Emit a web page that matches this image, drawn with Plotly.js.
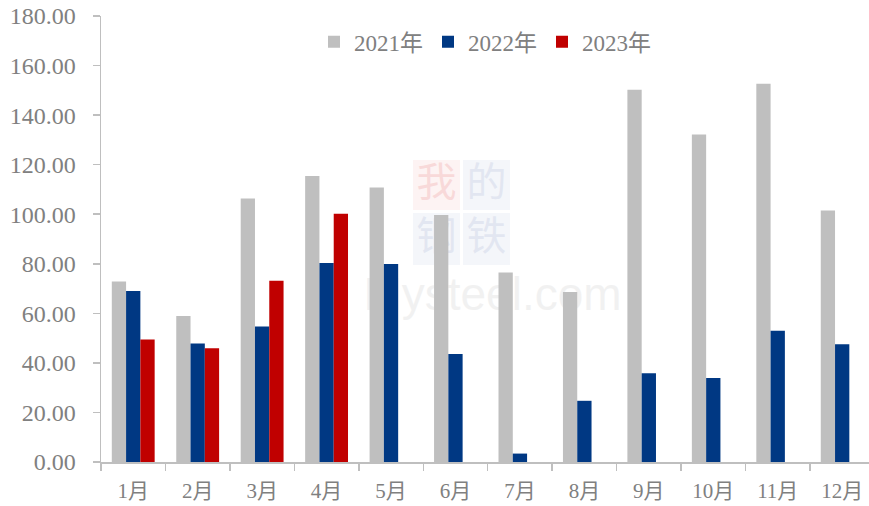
<!DOCTYPE html>
<html>
<head>
<meta charset="utf-8">
<script src="https://cdn.plot.ly/plotly-3.0.1.min.js"></script>
<style>html,body{margin:0;padding:0;background:#fff;}#chart{width:869px;height:506px;}</style>
</head>
<body>
<div id="chart"></div>
<script>
const months = ["1月","2月","3月","4月","5月","6月","7月","8月","9月","10月","11月","12月"];
const series2021 = [72.8, 58.9, 106.3, 115.4, 110.8, 99.7, 76.5, 68.6, 150.2, 132.2, 152.7, 101.5];
const series2022 = [69.0, 47.8, 54.7, 80.3, 79.9, 43.6, 3.4, 24.7, 35.8, 33.9, 53.0, 47.5];
const series2023 = [49.4, 45.9, 73.2, 100.2, null, null, null, null, null, null, null, null];
const seriesNames = ["2021年", "2022年", "2023年"];
const yTicks = [0, 20, 40, 60, 80, 100, 120, 140, 160, 180];

const font = "Liberation Serif, 'Times New Roman', 'Noto Sans CJK SC', serif";
const colors = ["#bfbfbf", "#003883", "#c00000"];

const traces = [series2021, series2022, series2023].map((vals, i) => ({
  type: "bar",
  name: seriesNames[i],
  x: months,
  y: vals,
  marker: {color: colors[i]},
  hoverinfo: "x+y+name"
}));

// faint watermark drawn below the bars
const wm = (x0, x1, y0, y1, fill, txt, tcol, size, fam) => ({
  type: "rect", xref: "paper", yref: "paper", x0, x1, y0, y1, layer: "below",
  fillcolor: fill, line: {width: 0},
  label: {text: txt, font: {size, color: tcol, family: fam}, textposition: "middle center"}
});
const px = v => (v - 101) / 768;
const py = v => (462 - v) / 446;

const layout = {
  width: 869, height: 506,
  margin: {l: 101, r: 0, t: 16, b: 44},
  paper_bgcolor: "#fff", plot_bgcolor: "rgba(0,0,0,0)",
  barmode: "group",
  bargap: 0.335,
  bargroupgap: 0,
  font: {family: font, color: "#808080", size: 21},
  showlegend: true,
  legend: {
    orientation: "h", x: 0.5, xanchor: "center", y: 0.942, yanchor: "middle",
    font: {family: font, size: 23, color: "#808080"},
    itemwidth: 30, traceorder: "normal", bgcolor: "rgba(0,0,0,0)"
  },
  xaxis: {
    type: "category",
    range: [-0.5, 11.416],
    showline: true, linecolor: "#bfbfbf", linewidth: 1.5,
    ticks: "outside", tickson: "boundaries", ticklen: 7, tickcolor: "#bfbfbf", tickwidth: 1.5,
    showgrid: false, zeroline: false,
    tickfont: {family: font, size: 21, color: "#808080"},
    ticklabelstandoff: 9
  },
  yaxis: {
    range: [0, 180],
    tickvals: yTicks,
    ticktext: yTicks.map(v => v.toFixed(2)),
    showline: true, linecolor: "#bfbfbf", linewidth: 1.5,
    ticks: "outside", ticklen: 7, tickcolor: "#bfbfbf", tickwidth: 1.5,
    showgrid: false, zeroline: false,
    tickfont: {family: font, size: 24, color: "#808080"},
    ticklabelstandoff: 12
  },
  shapes: [
    wm(px(413), px(460), py(210), py(160), "rgba(252,238,238,0.7)", "我", "rgba(245,200,200,0.6)", 40, "Noto Sans CJK SC"),
    wm(px(463), px(510), py(210), py(160), "rgba(240,242,248,0.7)", "的", "rgba(215,220,235,0.6)", 40, "Noto Sans CJK SC"),
    wm(px(413), px(460), py(265), py(213), "rgba(240,242,248,0.7)", "钢", "rgba(215,220,235,0.6)", 40, "Noto Sans CJK SC"),
    wm(px(463), px(510), py(265), py(213), "rgba(240,242,248,0.7)", "铁", "rgba(215,220,235,0.6)", 40, "Noto Sans CJK SC"),
    wm(px(375), px(610), py(315), py(265), "rgba(0,0,0,0)", "Mysteel.com", "rgba(236,236,236,0.7)", 46, "Liberation Sans, Arial, sans-serif")
  ]
};

Plotly.newPlot("chart", traces, layout, {displayModeBar: false, staticPlot: true});
</script>
</body>
</html>
